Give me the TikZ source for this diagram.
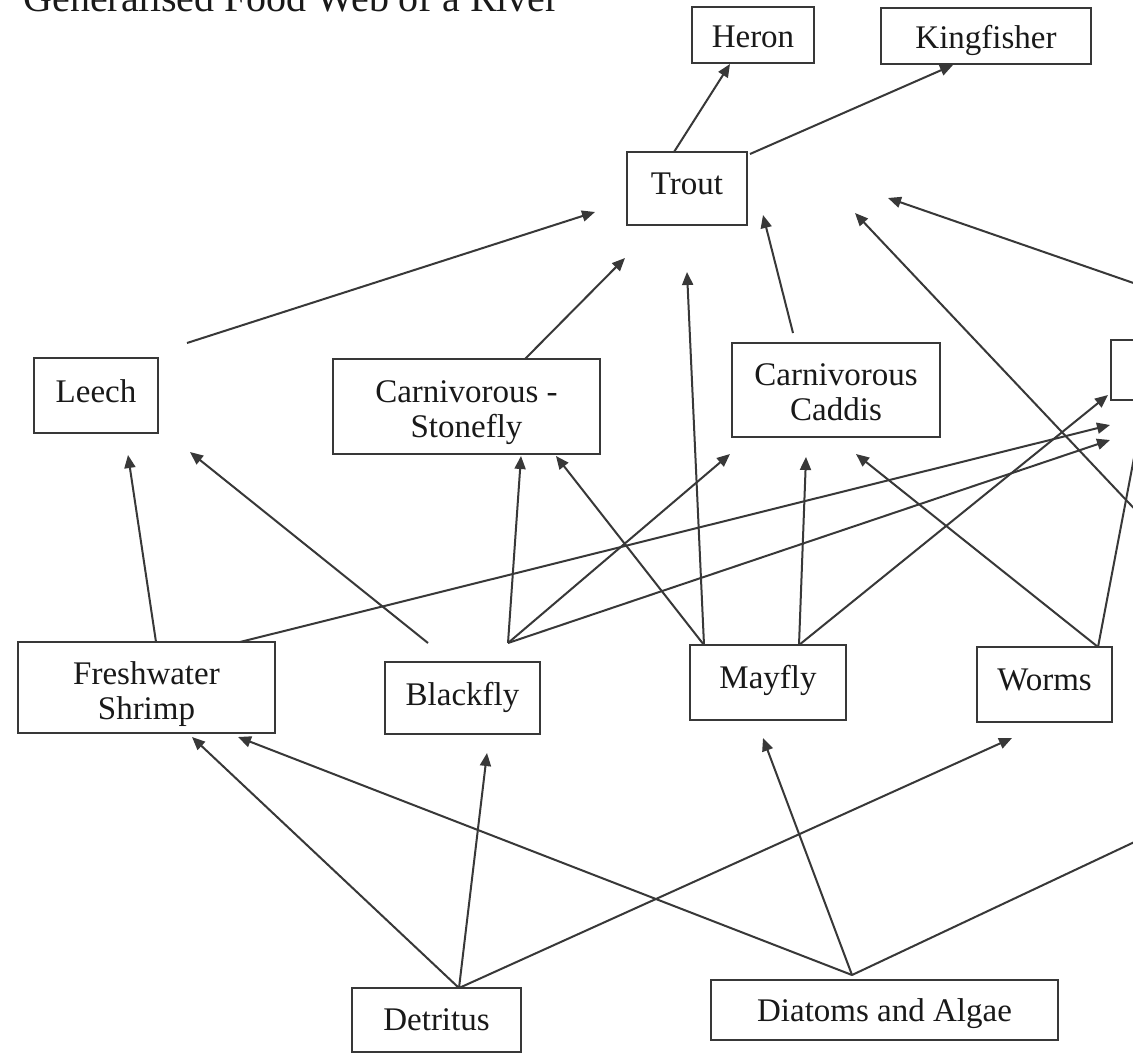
\documentclass[tikz,border=0pt]{standalone}
\usepackage{fontspec}
\setmainfont{Liberation Serif}
\usetikzlibrary{arrows.meta,calc}
\begin{document}
\begin{tikzpicture}[x=0.5pt,y=-0.5pt,
  box/.style={draw=black!78, line width=1pt, rectangle, inner sep=0pt, outer sep=0pt,
    align=center, text=black!90, font=\fontsize{16.5pt}{17.5pt}\selectfont},
  one/.style={text height=17pt, text depth=#1},
  one/.default=4pt,
  arr/.style={draw=black!78, line width=1pt, -{Triangle[length=6.5pt,width=5.5pt]}}]
\useasboundingbox (0,0) rectangle (1133,1054);
\clip (0,0) rectangle (1133,1054);
\fill[white] (0,0) rectangle (1133,1054);

% title (cut off at the top in the source)
\node[anchor=base west, inner sep=0pt, text=black!90,
      font=\fontsize{20pt}{24pt}\selectfont] (title) at (23,12)
      {Generalised Food Web of a River};

% boxes
\node[box, one, minimum width=61pt, minimum height=28pt] (heron) at (753,35) {Heron};
\node[box, one, minimum width=105pt, minimum height=28pt] (kingfisher) at (986,36) {Kingfisher};
\node[box, one=11.5pt, minimum width=60pt, minimum height=36.5pt] (trout) at (687,188.5) {Trout};
\node[box, one=10.5pt, minimum width=62pt, minimum height=37.5pt] (leech) at (96,395.5) {Leech};
\node[box, minimum width=133.5pt, minimum height=47.5pt] (stonefly) at (466.5,406.5) {\rule{0pt}{17.5pt}Carnivorous -\\Stonefly};
\node[box, minimum width=104pt, minimum height=47pt] (caddis) at (836,390) {\rule{0pt}{13.5pt}Carnivorous\\Caddis};
\node[box, minimum width=70pt, minimum height=30pt] (rbox) at (1181,370) {};
\node[box, minimum width=128.5pt, minimum height=45.5pt] (shrimp) at (146.5,687.5) {\rule{0pt}{18.5pt}Freshwater\\Shrimp};
\node[box, one=9.5pt, minimum width=77.5pt, minimum height=36pt] (blackfly) at (462.5,698) {Blackfly};
\node[box, one=11.5pt, minimum width=78pt, minimum height=37.5pt] (mayfly) at (768,682.5) {Mayfly};
\node[box, one=11.5pt, minimum width=67.5pt, minimum height=37.5pt] (worms) at (1044.5,684.5) {Worms};
\node[box, one=7pt, minimum width=84.5pt, minimum height=32pt] (detritus) at (436.5,1020) {Detritus};
\node[box, one=6pt, minimum width=173.5pt, minimum height=30pt] (diatoms) at (884.5,1010) {Diatoms and Algae};

% free ends leaving the picture on the right
\coordinate (offA) at (1145,287);
\coordinate (offB) at (1145,520);
\coordinate (offC) at (1145,837);

% connectors
\draw[arr] ($(trout.north west)+(47,0)$) -- ($(heron.south west)+(38,1)$);
\draw[arr] ($(trout.north east)+(3,2)$) -- ($(kingfisher.south west)+(72,1)$);

\draw[arr] ($(leech.north east)+(29,-15)$) -- ($(trout.south west)+(-32,-13)$);
\draw[arr] ($(stonefly.north west)+(192,0)$) -- ($(trout.south west)+(-2,33)$);
\draw[arr] ($(caddis.north west)+(61,-10)$) -- ($(trout.south east)+(16,-10)$);
\draw[arr] ($(mayfly.north west)+(14,0)$) -- ($(trout.south west)+(60,47)$);
\draw[arr] (offA) -- ($(trout.south east)+(141,-27)$);
\draw[arr] (offB) -- ($(trout.south east)+(108,-12)$);

\draw[arr] ($(shrimp.north west)+(138,0)$) -- ($(leech.south west)+(94,22)$);
\draw[arr] ($(blackfly.north west)+(43,-19)$) -- ($(leech.south east)+(32,19)$);
\draw[arr] ($(blackfly.north west)+(123,-19)$) -- ($(stonefly.south west)+(188,2)$);
\draw[arr] ($(blackfly.north west)+(123,-19)$) -- ($(caddis.south west)+(-2,17)$);
\draw[arr] ($(blackfly.north west)+(123,-19)$) -- ($(rbox.south west)+(-1,40)$);
\draw[arr] ($(shrimp.north west)+(222,0)$) -- ($(rbox.south west)+(-1,25)$);
\draw[arr] ($(mayfly.north west)+(14,0)$) -- ($(stonefly.south east)+(-44,2)$);
\draw[arr] ($(mayfly.north west)+(109,0)$) -- ($(caddis.south west)+(74,20)$);
\draw[arr] ($(mayfly.north west)+(109,0)$) -- ($(rbox.south west)+(-3,-5)$);
\draw[arr] ($(worms.north east)+(-14,0)$) -- ($(caddis.south west)+(124,17)$);
\draw[arr] ($(worms.north east)+(-14,0)$) -- ($(rbox.south west)+(34,0)$);

\draw[arr] ($(detritus.north west)+(107,0)$) -- ($(shrimp.south west)+(174,4)$);
\draw[arr] ($(detritus.north west)+(107,0)$) -- ($(blackfly.south west)+(102,19)$);
\draw[arr] ($(detritus.north west)+(107,0)$) -- ($(worms.south west)+(35,16)$);
\draw[arr] ($(diatoms.north west)+(141,-5)$) -- ($(shrimp.south west)+(220,4)$);
\draw[arr] ($(diatoms.north west)+(141,-5)$) -- ($(mayfly.south west)+(73,18)$);
\draw[arr, -] ($(diatoms.north west)+(141,-5)$) -- (offC);
\end{tikzpicture}
\end{document}
